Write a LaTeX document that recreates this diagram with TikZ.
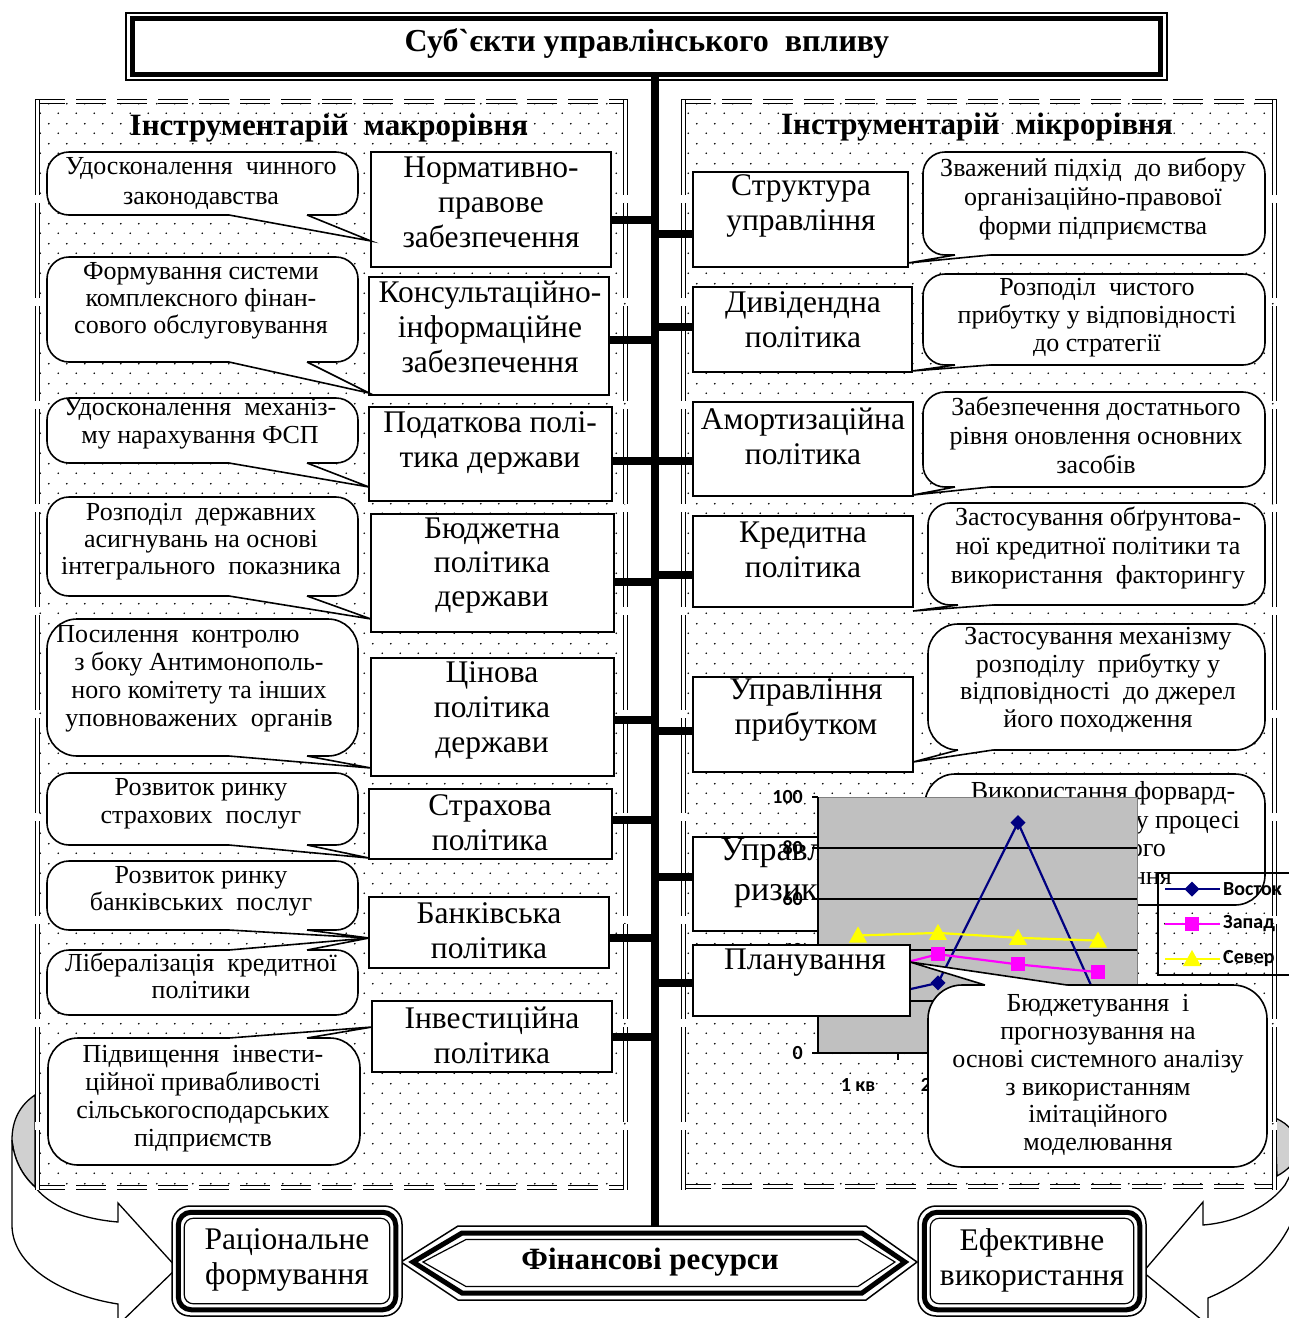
\documentclass[tikz,border=0pt]{standalone}
\usepackage{fontspec}
\setmainfont{Liberation Serif}
\newfontfamily\chartfont{Carlito}
\usetikzlibrary{patterns.meta,calc}

\definecolor{vostok}{RGB}{0,0,128}
\definecolor{zapad}{RGB}{255,0,255}
\definecolor{sever}{RGB}{255,255,0}
\definecolor{plotgray}{RGB}{192,192,192}
\definecolor{arrowgray}{RGB}{208,208,208}

% staggered dot fill of the two panels
\pgfdeclarepattern{
  name=stagdots,
  bottom left={\pgfpoint{0pt}{0pt}},
  top right={\pgfpoint{18pt}{20pt}},
  tile size={\pgfpoint{18pt}{20pt}},
  tile transformation={},
  code={
    \pgfpathcircle{\pgfpoint{4.5pt}{5pt}}{0.95pt}
    \pgfpathcircle{\pgfpoint{13.5pt}{15pt}}{0.95pt}
    \pgfusepath{fill}
  }
}

\tikzset{
  box/.style={draw, line width=1.6pt, fill=white, inner sep=0pt, outer sep=0pt},
  btext/.style={font=\fontsize{31.5}{35}\selectfont, align=center, inner sep=0pt},
  call/.style={draw, line width=1.6pt, fill=white, rounded corners=22pt, inner sep=0pt, outer sep=0pt},
  ctext/.style={font=\fontsize{26}{28}\selectfont, align=center, inner sep=0pt},
  ptitle/.style={font=\fontsize{31}{34}\selectfont\bfseries, inner sep=0pt},
  link/.style={line width=8pt},
  wedgeline/.style={line width=1.6pt},
  edgeh/.style={double, line width=0.9pt, double distance=2.6pt, dash pattern=on 30pt off 11pt},
  edgev/.style={double, line width=0.9pt, double distance=2.6pt, dash pattern=on 95pt off 8pt},
  axlab/.style={font=\chartfont\bfseries\fontsize{20}{22}\selectfont, inner sep=0pt},
  serie/.style={line width=2.2pt},
}

% pointer of a speech bubble: edge y, base x1, base x2, inner y, tip
\newcommand\tail[5]{%
  \fill[white] (#2,#4) -- (#2,#1) -- #5 -- (#3,#1) -- (#3,#4) -- cycle;
  \draw[wedgeline] (#2,#1) -- #5 -- (#3,#1);}

\begin{document}
\begin{tikzpicture}[x=1pt,y=-1pt,line join=miter]
\clip (0,0) rectangle (1289,1318);
\fill[white] (0,0) rectangle (1289,1318);

% ---------- curved block arrows (behind the panels) ----------
\filldraw[fill=arrowgray, line width=1.3pt] (35,1095) .. controls (20,1105) and (12,1120) .. (12,1140)
   .. controls (14,1160) and (22,1175) .. (35,1187) -- cycle;
\filldraw[fill=white, line width=1.3pt] (12,1140) -- (12,1225) .. controls (12,1265) and (60,1295) .. (118,1304)
   -- (118,1325) -- (177,1268) -- (118,1203) -- (118,1222)
   .. controls (70,1218) and (45,1200) .. (35,1187) .. controls (22,1175) and (14,1160) .. (12,1140) -- cycle;

\filldraw[fill=arrowgray, line width=1.3pt] (1275,1118) .. controls (1290,1124) and (1298,1136) .. (1300,1150)
   .. controls (1296,1162) and (1288,1170) .. (1277,1176) -- cycle;
\filldraw[fill=white, line width=1.3pt] (1300,1150) .. controls (1312,1175) and (1300,1260) .. (1208,1298)
   -- (1208,1325) -- (1143,1272) -- (1203,1202) -- (1203,1225)
   .. controls (1240,1222) and (1270,1205) .. (1285,1185) .. controls (1292,1172) and (1298,1160) .. (1300,1150) -- cycle;

% ---------- panels ----------
\fill[white] (35,100) rectangle (628,1190);
\fill[pattern=stagdots] (37,101) rectangle (626,1188);
\draw[edgeh] (35,101.5) -- (628,101.5);
\draw[edgeh] (35,1187.5) -- (628,1187.5);
\draw[edgev] (37.5,100) -- (37.5,1190);
\draw[edgev] (625.5,100) -- (625.5,1190);

\fill[white] (681,100) rectangle (1277,1190);
\fill[pattern=stagdots] (683,101) rectangle (1275,1188);
\draw[edgeh] (681,101.5) -- (1277,101.5);
\draw[edgeh] (681,1186.5) -- (1277,1186.5);
\draw[edgev] (683.5,100) -- (683.5,1190);
\draw[edgev] (1274.5,100) -- (1274.5,1190);

\node[ptitle] (macro) at (329,128) {Інструментарій\ \ макрорівня};
\node[ptitle] (micro) at (977,127) {Інструментарій\ \ мікрорівня};

% ---------- title and spine ----------
\node[draw, line width=1.5pt, fill=white, minimum width=1041, minimum height=67, inner sep=0pt] (title) at (646.5,46.5) {};
\draw[line width=5pt] ($(title.south west)+(7,-6)$) rectangle ($(title.north east)+(-7,6)$);
\node[font=\fontsize{32}{36}\selectfont\bfseries, inner sep=0pt] (titletext) at (647,43)
      {Суб\textasciigrave єкти управлінського\ \ впливу};

\coordinate (spineTop) at (655,73);
\coordinate (spineBot) at (655,1234);
\draw[link] (spineTop) -- (spineBot);

% ---------- macro level: boxes ----------
\node[box, minimum width=240, minimum height=115] (L1) at (491,209.5) {};
\node[box, minimum width=240, minimum height=118] (L2) at (489,336) {};
\node[box, minimum width=243, minimum height=94]  (L3) at (490.5,454) {};
\node[box, minimum width=243, minimum height=118] (L4) at (492.5,573) {};
\node[box, minimum width=243, minimum height=118] (L5) at (492.5,717) {};
\node[box, minimum width=243, minimum height=70]  (L6) at (490.5,824) {};
\node[box, minimum width=240, minimum height=71]  (L7) at (489,932.5) {};
\node[box, minimum width=240, minimum height=71]  (L8) at (492,1036.5) {};

\node[btext] (L1t) at (491,202) {Нормативно-\\правове\\забезпечення};
\node[btext] (L2t) at (490,327) {Консультаційно-\\інформаційне\\забезпечення};
\node[btext] (L3t) at (490,443) {Податкова полі-\\тика держави};
\node[btext, font=\fontsize{31.5}{34}\selectfont] (L4t) at (492,566) {Бюджетна\\політика\\держави};
\node[btext, font=\fontsize{31.5}{35}\selectfont] (L5t) at (492,710) {Цінова\\політика\\держави};
\node[btext] (L6t) at (490,823) {Страхова\\політика};
\node[btext] (L7t) at (489,931) {Банківська\\політика};
\node[btext] (L8t) at (492,1035) {Інвестиційна\\політика};

\draw[link] (L1.east |- 0,220)  -- (spineTop |- 0,220);
\draw[link] (L2.east |- 0,340)  -- (spineTop |- 0,340);
\draw[link] (L3.east |- 0,461)  -- (spineTop |- 0,461);
\draw[link] (L4.east |- 0,582)  -- (spineTop |- 0,582);
\draw[link] (L5.east |- 0,720)  -- (spineTop |- 0,720);
\draw[link] (L6.east |- 0,820)  -- (spineTop |- 0,820);
\draw[link] (L7.east |- 0,938)  -- (spineTop |- 0,938);
\draw[link] (L8.east |- 0,1037) -- (spineTop |- 0,1037);

% ---------- macro level: bubbles ----------
\node[call, minimum width=311, minimum height=63]  (C1) at (202.5,183.5) {};
\tail{215}{229}{307}{211}{(L1.west |- 0,241)}
\node[ctext, font=\fontsize{26}{30}\selectfont] (C1t) at (201,183) {Удосконалення\ \ чинного\\законодавства};

\node[call, minimum width=311, minimum height=105] (C2) at (202.5,309.5) {};
\tail{362}{229}{307}{358}{(L2.west |- 0,393)}
\node[ctext, font=\fontsize{26}{27}\selectfont] (C2t) at (201,301) {Формування системи\\комплексного фінан-\\сового обслуговування};

\node[call, minimum width=311, minimum height=65]  (C3) at (202.5,430.5) {};
\tail{463}{229}{307}{459}{(L3.west |- 0,487)}
\node[ctext] (C3t) at (200,424) {Удосконалення\ \ механіз-\\му нарахування ФСП};

\node[call, minimum width=311, minimum height=99]  (C4) at (202.5,546.5) {};
\tail{596}{229}{307}{592}{(L4.west |- 0,619)}
\node[ctext, font=\fontsize{26}{27}\selectfont] (C4t) at (201,542) {Розподіл\ \ державних\\асигнувань на основі\\інтегрального\ \ показника};

\node[call, minimum width=311, minimum height=137, rounded corners=30pt] (C5) at (202.5,687.5) {};
\tail{756}{229}{307}{752}{(L5.west |- 0,768)}
\node[ctext] (C5t) at (199,679) {Посилення\ \ контролю\hspace*{42pt}\\з боку Антимонополь-\\ного комітету та інших\\уповноважених\ \ органів};

\node[call, minimum width=311, minimum height=72]  (C6) at (202.5,809) {};
\tail{845}{229}{307}{841}{(L6.west |- 0,858)}
\node[ctext] (C6t) at (201,804) {Розвиток ринку\\страхових\ \ послуг};

\node[call, minimum width=311, minimum height=69]  (C7) at (202.5,895.5) {};
\node[call, minimum width=311, minimum height=65]  (C8) at (202.5,982.5) {};
\tail{930}{229}{307}{926}{(L7.west |- 0,938)}
\tail{950}{229}{307}{954}{(L7.west |- 0,938)}
\node[ctext, font=\fontsize{26}{27}\selectfont] (C7t) at (201,891) {Розвиток ринку\\банківських\ \ послуг};
\node[ctext, font=\fontsize{26}{27}\selectfont] (C8t) at (201,976) {Лібералізація\ \ кредитної\\політики};

\node[call, minimum width=312, minimum height=127, rounded corners=30pt] (C9) at (204,1101.5) {};
\tail{1038}{229}{307}{1042}{(L8.west |- 0,1027)}
\node[ctext] (C9t) at (203,1099) {Підвищення\ \ інвести-\\ційної привабливості\\сільськогосподарських\\підприємств};

% ---------- micro level: boxes ----------
\node[box, minimum width=215, minimum height=95] (R1) at (800.5,219.5) {};
\node[box, minimum width=219, minimum height=85] (R2) at (802.5,329.5) {};
\node[box, minimum width=220, minimum height=94] (R3) at (803,449) {};
\node[box, minimum width=220, minimum height=91] (R4) at (803,561.5) {};
\node[box, minimum width=220, minimum height=95] (R5) at (803,724.5) {};
\node[box, minimum width=220, minimum height=94] (R6) at (803,884) {};

\node[btext] (R1t) at (801,206) {Структура\\управління};
\node[btext] (R2t) at (803,320) {Дивідендна\\політика};
\node[btext] (R3t) at (803,436) {Амортизаційна\\політика};
\node[btext] (R4t) at (803,550) {Кредитна\\політика};
\node[btext] (R5t) at (806,710) {Управління\\прибутком};
\node[btext, font=\fontsize{34}{40}\selectfont] (R6t) at (803,873) {Управління\\ризиками};

\draw[link] (spineTop |- 0,234) -- (R1.west |- 0,234);
\draw[link] (spineTop |- 0,327) -- (R2.west |- 0,327);
\draw[link] (spineTop |- 0,461) -- (R3.west |- 0,461);
\draw[link] (spineTop |- 0,575) -- (R4.west |- 0,575);
\draw[link] (spineTop |- 0,731) -- (R5.west |- 0,731);
\draw[link] (spineTop |- 0,877) -- (R6.west |- 0,877);

% ---------- micro level: bubbles ----------
\node[call, minimum width=342, minimum height=103] (D1) at (1094,203.5) {};
\tail{255}{955}{990}{251}{(R1.east |- 0,263)}
\node[ctext, font=\fontsize{26}{29}\selectfont] (D1t) at (1093,199) {Зважений підхід\ \ до вибору\\організаційно-правової\\форми підприємства};

\node[call, minimum width=342, minimum height=91] (D2) at (1094,319.5) {};
\tail{365}{955}{990}{361}{(R2.east |- 0,371)}
\node[ctext] (D2t) at (1097,318) {Розподіл\ \ чистого\\прибутку у відповідності\\до стратегії};

\node[call, minimum width=342, minimum height=95] (D3) at (1094,439.5) {};
\tail{487}{955}{990}{483}{(R3.east |- 0,495)}
\node[ctext, font=\fontsize{26}{29}\selectfont] (D3t) at (1096,435) {Забезпечення достатнього\\рівня оновлення основних\\засобів};

\node[call, minimum width=337, minimum height=102] (D4) at (1096.5,554) {};
\tail{605}{958}{993}{601}{(R4.east |- 0,611)}
\node[ctext, font=\fontsize{26}{29}\selectfont] (D4t) at (1098,548) {Застосування обґрунтова-\\ної кредитної політики та\\використання\ \ факторингу};

\node[call, minimum width=337, minimum height=126, rounded corners=30pt] (D5) at (1096.5,687) {};
\tail{750}{958}{993}{746}{(R5.east |- 0,762)}
\node[ctext, font=\fontsize{26}{27.5}\selectfont] (D5t) at (1098,680) {Застосування механізму\\розподілу\ \ прибутку у\\відповідності\ \ до джерел\\його походження};

\node[call, minimum width=340, minimum height=131, rounded corners=30pt] (D6) at (1095,839.5) {};
\node[ctext] (D6a) at (1103,793) {Використання форвард-};
\node[ctext, anchor=base east] (D6b) at (1240,828) {у процесі};
\node[ctext, anchor=base east] (D6c) at (1166,856) {ого};
\node[ctext, anchor=base east] (D6d) at (1172,884) {ння};

% ---------- line chart ----------
\fill[plotgray] (818,797) rectangle (1137,1053);
\draw[line width=0.8pt, gray] (818,797) -- (1137,797) -- (1137,1053);
\foreach \gy in {848,899,950,1001} \draw[line width=2pt] (818,\gy) -- (1137,\gy);
\draw[line width=1.6pt] (818,797) -- (818,1053) -- (1137,1053);
\foreach \gy in {797,848,899,950,1001,1053} \draw[line width=1.6pt] (812,\gy) -- (818,\gy);
\foreach \gx in {898,978,1058,1137} \draw[line width=1.6pt] (\gx,1053) -- (\gx,1060);
\node[axlab, anchor=east] (y100) at (803,797)  {100};
\node[axlab, anchor=east] (y80)  at (803,848)  {80};
\node[axlab, anchor=east] (y60)  at (803,899)  {60};
\node[axlab, anchor=east] (y40)  at (803,950)  {40};
\node[axlab, anchor=east] (y20)  at (803,1001) {20};
\node[axlab, anchor=east] (y0)   at (803,1053) {0};
\node[axlab] (x1) at (858,1085) {1 кв};
\node[axlab] (x2) at (938,1085) {2 кв};

\draw[serie, vostok] (858,1000.8) -- (938,982.9) -- (1018,822.6) -- (1098,1000.8);
\foreach \px/\py in {858/1000.8,938/982.9,1018/822.6,1098/1000.8}
  \fill[vostok] (\px-7.5,\py) -- (\px,\py-7.5) -- (\px+7.5,\py) -- (\px,\py+7.5) -- cycle;
\draw[serie, zapad] (858,974.7) -- (938,954.2) -- (1018,964.4) -- (1098,972.1);
\foreach \px/\py in {858/974.7,938/954.2,1018/964.4,1098/972.1}
  \fill[zapad] (\px-7,\py-7) rectangle (\px+7,\py+7);
\draw[serie, sever] (858,935.5) -- (938,932.9) -- (1018,937.8) -- (1098,940.6);
\foreach \px/\py in {858/935.5,938/932.9,1018/937.8,1098/940.6}
  \fill[sever] (\px,\py-9) -- (\px+9,\py+7) -- (\px-9,\py+7) -- cycle;

% legend
\draw[line width=2pt] (1158,873) rectangle (1300,975);
\draw[serie, vostok] (1165,889) -- (1220,889);
\fill[vostok] (1184.5,889) -- (1192,881.5) -- (1199.5,889) -- (1192,896.5) -- cycle;
\node[axlab, anchor=west] (lg1) at (1223,889) {Восток};
\draw[serie, zapad] (1165,924) -- (1220,924);
\fill[zapad] (1185,917) rectangle (1199,931);
\node[axlab, anchor=west] (lg2) at (1223,924) {Запад};
\draw[serie, sever] (1165,959) -- (1220,959);
\fill[sever] (1192,950) -- (1201,966) -- (1183,966) -- cycle;
\node[axlab, anchor=west] (lg3) at (1223,959) {Север};

% ---------- planning (over the chart) ----------
\node[box, minimum width=217, minimum height=71] (R7) at (801.5,980.5) {};
\node[btext] (R7t) at (805,963) {Планування};
\draw[link] (spineTop |- 0,983) -- (R7.west |- 0,983);

\node[call, minimum width=339, minimum height=182, rounded corners=34pt] (D7) at (1097.5,1076) {};
\tail{985}{985}{1067}{989}{(R7.east |- 0,962)}
\node[ctext, font=\fontsize{26}{27.8}\selectfont] (D7t) at (1098,1075) {Бюджетування\ \ і\\прогнозування на\\основі системного аналізу\\з використанням\\імітаційного\\моделювання};

% ---------- financial resources ----------
\filldraw[fill=white, line width=1.5pt] (401,1262) -- (458,1226) -- (866,1226) -- (917,1262) -- (866,1300) -- (458,1300) -- cycle;
\draw[line width=5pt] (413,1262) -- (462,1233) -- (862,1233) -- (905,1262) -- (862,1293) -- (462,1293) -- cycle;
\draw[line width=1.2pt] (423,1262) -- (466,1239.5) -- (858,1239.5) -- (895,1262) -- (858,1286.5) -- (466,1286.5) -- cycle;
\node[font=\fontsize{31}{34}\selectfont\bfseries, inner sep=0pt] (fin) at (650,1262) {Фінансові ресурси};

\node[draw, fill=white, line width=1.5pt, rounded corners=18pt, minimum width=230, minimum height=110, inner sep=0pt] (rf) at (287,1261) {};
\draw[line width=5pt, rounded corners=13pt] ($(rf.south west)+(7,-7)$) rectangle ($(rf.north east)+(-7,7)$);
\draw[line width=1.2pt, rounded corners=9pt] ($(rf.south west)+(13,-13)$) rectangle ($(rf.north east)+(-13,13)$);
\node[btext] (rft) at (287,1260) {Раціональне\\формування};

\node[draw, fill=white, line width=1.5pt, rounded corners=18pt, minimum width=228, minimum height=110, inner sep=0pt] (ef) at (1032,1261) {};
\draw[line width=5pt, rounded corners=13pt] ($(ef.south west)+(7,-7)$) rectangle ($(ef.north east)+(-7,7)$);
\draw[line width=1.2pt, rounded corners=9pt] ($(ef.south west)+(13,-13)$) rectangle ($(ef.north east)+(-13,13)$);
\node[btext] (eft) at (1032,1260) {Ефективне\\використання};

\end{tikzpicture}
\end{document}
